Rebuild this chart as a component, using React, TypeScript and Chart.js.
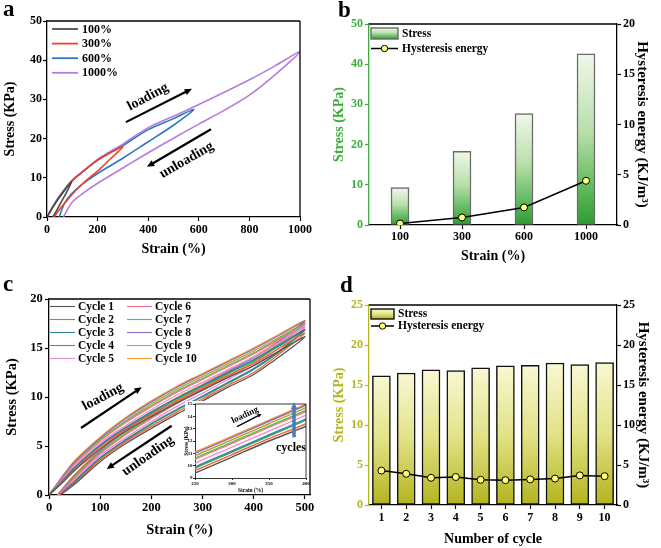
import React, { useEffect, useRef } from "react";
import { Chart, registerables } from "chart.js";
Chart.register(...registerables);

const PAGE_W = 661;
const PAGE_H = 548;
const SERIF = "'Liberation Serif', 'Times New Roman', Times, serif";

// ---------------- Panel a data ----------------
const aLevels = ["100%", "300%", "600%", "1000%"];
const aColors = ["#4d4d4d", "#f0402a", "#2b78c0", "#b57ddd"];
const a100X = [0, 25, 50, 75, 97, 75, 50, 35, 22];
const a100Y = [0, 2.7, 5.1, 7.3, 9.0, 6.0, 3.1, 1.3, 0];
const a300X = [0, 25, 50, 100, 150, 200, 250, 300, 250, 210, 150, 117, 80, 50, 28];
const a300Y = [0, 2.8, 5.2, 9.2, 12.0, 14.5, 16.4, 17.9, 14.8, 12.3, 9.0, 7.0, 4.3, 2.0, 0];
const a600X = [0, 25, 50, 100, 150, 200, 300, 400, 500, 580, 500, 400, 300, 200, 140, 100, 70, 48];
const a600Y = [0, 2.8, 5.3, 9.3, 12.0, 14.5, 18.2, 22.3, 25.1, 27.4, 23.4, 19.2, 15.0, 11.1, 8.4, 6.1, 3.6, 0];
const a1000X = [0, 25, 50, 100, 150, 200, 250, 300, 400, 500, 600, 700, 800, 900, 1000, 900, 800, 700, 600, 500, 400, 300, 200, 150, 100, 65];
const a1000Y = [0, 2.8, 5.4, 9.4, 12.1, 14.7, 16.7, 18.6, 22.8, 25.7, 28.7, 31.8, 35.0, 38.5, 42.2, 36.2, 31.1, 27.2, 23.7, 20.1, 16.4, 12.5, 8.6, 6.4, 3.8, 0];
const aXTicks = [0, 200, 400, 600, 800, 1000];
const aYTicks = [0, 10, 20, 30, 40, 50];

// ---------------- Panel b data ----------------
const bCats = ["100", "300", "600", "1000"];
const bStress = [9.3, 18.3, 27.7, 42.6];
const bEnergy = [0.15, 0.75, 1.75, 4.4];
const bYTicks = [0, 10, 20, 30, 40, 50];
const bY2Ticks = [0, 5, 10, 15, 20];

// ---------------- Panel c data ----------------
const cycleLabels = ["Cycle 1", "Cycle 2", "Cycle 3", "Cycle 4", "Cycle 5", "Cycle 6", "Cycle 7", "Cycle 8", "Cycle 9", "Cycle 10"];
const cycleColors = ["#555555", "#ff5a36", "#2f7f9f", "#2caa5f", "#e58fd8", "#ff7088", "#44cc44", "#8e6cc0", "#b0a838", "#ff9a1f"];
const cLoadX = [0, 25, 50, 100, 150, 200, 250, 300, 350, 400, 450, 500];
const cLoadY = [
  [0, 1.2, 2.5, 4.7, 6.5, 8.0, 9.4, 10.7, 12.0, 13.2, 14.7, 16.15],
  [0, 1.3, 2.6, 4.9, 6.7, 8.2, 9.6, 10.9, 12.2, 13.4, 15.0, 16.5],
  [0, 1.4, 2.8, 5.1, 6.9, 8.5, 9.9, 11.2, 12.5, 13.8, 15.3, 16.9],
  [0, 1.4, 2.7, 5.0, 6.8, 8.4, 9.8, 11.1, 12.4, 13.7, 15.2, 16.8],
  [0, 1.5, 2.9, 5.3, 7.1, 8.7, 10.2, 11.5, 12.8, 14.1, 15.6, 17.15],
  [0, 1.6, 3.1, 5.5, 7.4, 9.0, 10.5, 11.8, 13.1, 14.4, 15.9, 17.4],
  [0, 1.6, 3.2, 5.6, 7.5, 9.1, 10.6, 11.9, 13.2, 14.5, 16.0, 17.45],
  [0, 1.8, 3.4, 5.8, 7.8, 9.5, 11.0, 12.3, 13.6, 14.9, 16.3, 17.75],
  [0, 1.7, 3.3, 5.7, 7.6, 9.3, 10.8, 12.1, 13.4, 14.7, 16.1, 17.55],
  [0, 1.8, 3.5, 5.9, 7.9, 9.6, 11.1, 12.4, 13.7, 15.0, 16.4, 17.8],
];
const cUnloadX = [450, 400, 350, 300, 250, 200, 150, 100, 50];
const cUnloadEnd = [22, 21, 20, 20, 19, 18, 18, 17, 17, 16];
const cUnloadY = [
  [14.1, 12.3, 11.0, 9.6, 8.25, 6.8, 5.25, 3.4, 1.1, 0],
  [14.4, 12.5, 11.2, 9.8, 8.45, 7.0, 5.45, 3.6, 1.2, 0],
  [14.7, 12.9, 11.5, 10.1, 8.75, 7.3, 5.65, 3.8, 1.4, 0],
  [14.6, 12.8, 11.4, 10.0, 8.65, 7.2, 5.55, 3.7, 1.3, 0],
  [15.0, 13.2, 11.8, 10.4, 9.05, 7.5, 5.85, 4.0, 1.5, 0],
  [15.3, 13.5, 12.1, 10.7, 9.35, 7.8, 6.15, 4.2, 1.7, 0],
  [15.4, 13.6, 12.2, 10.8, 9.45, 7.9, 6.25, 4.3, 1.8, 0],
  [15.7, 14.0, 12.6, 11.2, 9.85, 8.3, 6.55, 4.5, 2.0, 0],
  [15.5, 13.8, 12.4, 11.0, 9.65, 8.1, 6.35, 4.4, 1.9, 0],
  [15.8, 14.1, 12.7, 11.3, 9.95, 8.4, 6.65, 4.6, 2.1, 0],
];
const cXTicks = [0, 100, 200, 300, 400, 500];
const cYTicks = [0, 5, 10, 15, 20];
const insetXTicks = [250, 300, 350, 400];
const insetYTicks = [9, 10, 11, 12, 13, 14, 15];

// ---------------- Panel d data ----------------
const dCats = ["1", "2", "3", "4", "5", "6", "7", "8", "9", "10"];
const dStress = [16.15, 16.5, 16.9, 16.8, 17.15, 17.4, 17.45, 17.75, 17.55, 17.8];
const dEnergy = [4.3, 3.9, 3.4, 3.5, 3.15, 3.1, 3.2, 3.3, 3.7, 3.6];
const dYTicks = [0, 5, 10, 15, 20, 25];

// ---------------- annotations (data coordinates) ----------------
const aNotes = [
  { kind: "arrow", x1: 312, y1: 24.2, x2: 573, y2: 32.7, width: 2.2, head: 8 },
  { kind: "text", x: 399, y: 30.6, text: "loading", angle: -28, size: 14 },
  { kind: "arrow", x1: 648, y1: 22.4, x2: 395, y2: 12.8, width: 2.2, head: 8 },
  { kind: "text", x: 552, y: 14.5, text: "unloading", angle: -30, size: 14 },
];
const cNotes = [
  { kind: "arrow", x1: 62.5, y1: 6.84, x2: 181.1, y2: 11.0, width: 2.2, head: 8 },
  { kind: "text", x: 105.5, y: 10.0, text: "loading", angle: -28, size: 14 },
  { kind: "arrow", x1: 239.7, y1: 7.07, x2: 112.7, y2: 2.65, width: 2.2, head: 8 },
  { kind: "text", x: 193.4, y: 4.0, text: "unloading", angle: -35, size: 14 },
];
const insetNotes = [
  { kind: "arrow", x1: 306.8, y1: 13.16, x2: 340.1, y2: 14.19, width: 1.3, head: 4.5 },
  { kind: "text", x: 317.6, y: 14.1, text: "loading", angle: -25, size: 9 },
  { kind: "arrow", x1: 383.8, y1: 12.3, x2: 383.8, y2: 15.16, width: 3.5, head: 8, color: "#4a7db3" },
  { kind: "text", x: 379.7, y: 11.43, text: "cycles", angle: 0, size: 12 },
];

const GREEN = "#3cac3c";
const OLIVE = "#b5b524";
const bStops: [number, string][] = [[0, "#f0f8ea"], [0.45, "#b9dfab"], [0.8, "#5cb85a"], [1, "#2d9a33"]];
const dStops: [number, string][] = [[0, "#f8f8d4"], [0.5, "#e2e286"], [1, "#b3b31e"]];

const fnt = (size: number) => ({ family: SERIF, size, weight: "bold" as const });
const cssFont = (size: number) => `bold ${size}px ${SERIF}`;

function xy(xs: number[], ys: number[]) {
  return xs.map((x, i) => ({ x, y: ys[i] }));
}

function scale(o: any) {
  const color = o.color || "#000";
  const vertical = o.position !== "bottom";
  const s: any = {
    type: o.type || "linear",
    position: o.position,
    min: o.min,
    max: o.max,
    offset: o.offset ?? false,
    grid: {
      display: true,
      drawOnChartArea: false,
      drawTicks: true,
      tickLength: o.tickLength ?? 4,
      tickWidth: o.tickWidth ?? 1.2,
      tickColor: color,
      color,
      offset: false,
    },
    border: { display: true, color, width: o.borderWidth ?? 1.3 },
    ticks: {
      color,
      font: fnt(o.tickSize ?? 12),
      padding: o.tickPad ?? 2,
      maxRotation: 0,
      minRotation: 0,
      autoSkip: false,
    },
    title: {
      display: !!o.title,
      text: o.title,
      color,
      font: fnt(o.titleSize ?? 14),
      padding: { top: o.titlePad ?? 0, bottom: o.titlePad ?? 0 },
    },
    afterFit: (sc: any) => {
      if (vertical) sc.width = o.size;
      else sc.height = o.size;
    },
  };
  if (o.ticksList) {
    s.ticks.callback = (v: any) => String(v);
    s.afterBuildTicks = (sc: any) => {
      sc.ticks = o.ticksList.map((v: number) => ({ value: v }));
    };
  }
  return s;
}

function drawArrow(ctx: CanvasRenderingContext2D, x1: number, y1: number, x2: number, y2: number, color: string, width: number, head: number) {
  const ang = Math.atan2(y2 - y1, x2 - x1);
  ctx.save();
  ctx.strokeStyle = color;
  ctx.fillStyle = color;
  ctx.lineWidth = width;
  ctx.beginPath();
  ctx.moveTo(x1, y1);
  ctx.lineTo(x2 - Math.cos(ang) * head * 0.7, y2 - Math.sin(ang) * head * 0.7);
  ctx.stroke();
  ctx.beginPath();
  ctx.moveTo(x2, y2);
  ctx.lineTo(x2 - head * Math.cos(ang - 0.42), y2 - head * Math.sin(ang - 0.42));
  ctx.lineTo(x2 - head * Math.cos(ang + 0.42), y2 - head * Math.sin(ang + 0.42));
  ctx.closePath();
  ctx.fill();
  ctx.restore();
}

function notesPlugin(notes: any[]) {
  return {
    id: "notes",
    afterDraw(chart: any) {
      const ctx = chart.ctx;
      const xs = chart.scales.x;
      const ys = chart.scales.y;
      notes.forEach((n) => {
        if (n.kind === "arrow") {
          drawArrow(ctx, xs.getPixelForValue(n.x1), ys.getPixelForValue(n.y1), xs.getPixelForValue(n.x2), ys.getPixelForValue(n.y2), n.color || "#000", n.width, n.head);
        } else {
          ctx.save();
          ctx.translate(xs.getPixelForValue(n.x), ys.getPixelForValue(n.y));
          ctx.rotate((n.angle * Math.PI) / 180);
          ctx.font = cssFont(n.size);
          ctx.fillStyle = n.color || "#000";
          ctx.textAlign = "center";
          ctx.textBaseline = "middle";
          ctx.fillText(n.text, 0, 0);
          ctx.restore();
        }
      });
    },
  };
}

function framePlugin(top: boolean, right: boolean, width = 1.3) {
  return {
    id: "frame",
    afterDraw(chart: any) {
      const { ctx, chartArea: a } = chart;
      ctx.save();
      ctx.strokeStyle = "#000";
      ctx.lineWidth = width;
      ctx.beginPath();
      if (top) {
        ctx.moveTo(a.left, a.top);
        ctx.lineTo(a.right, a.top);
      }
      if (right) {
        ctx.moveTo(a.right, a.top);
        ctx.lineTo(a.right, a.bottom);
      }
      ctx.stroke();
      ctx.restore();
    },
  };
}

function letterPlugin(letter: string, x: number, y: number) {
  return {
    id: "letter",
    afterDraw(chart: any) {
      const ctx = chart.ctx;
      ctx.save();
      ctx.font = cssFont(23);
      ctx.fillStyle = "#000";
      ctx.textBaseline = "alphabetic";
      ctx.textAlign = "left";
      ctx.fillText(letter, x, y);
      ctx.restore();
    },
  };
}

function barGradient(stops: [number, string][], fallback: string) {
  return (c: any) => {
    const chart = c.chart;
    const sc = chart.scales && chart.scales.y;
    if (!chart.chartArea || !sc || c.type !== "data") return fallback;
    const top = sc.getPixelForValue(c.raw);
    const bot = sc.getPixelForValue(0);
    const g = chart.ctx.createLinearGradient(0, top, 0, bot);
    stops.forEach(([o, col]) => g.addColorStop(o, col));
    return g;
  };
}

function lineLegend(labels: string[], colors: string[], cfg: any) {
  return {
    id: "lineLegend",
    afterDraw(chart: any) {
      const { ctx, chartArea: a } = chart;
      ctx.save();
      ctx.font = cssFont(cfg.size);
      ctx.textBaseline = "middle";
      ctx.textAlign = "left";
      labels.forEach((lab, i) => {
        const col = Math.floor(i / cfg.rows);
        const row = i % cfg.rows;
        const y = a.top + cfg.y0 + row * cfg.dy;
        const x = a.left + cfg.x0 + col * cfg.dx;
        ctx.strokeStyle = colors[i];
        ctx.lineWidth = cfg.lw;
        ctx.beginPath();
        ctx.moveTo(x, y);
        ctx.lineTo(x + cfg.len, y);
        ctx.stroke();
        ctx.fillStyle = "#000";
        ctx.fillText(lab, x + cfg.len + cfg.gap, y + 0.5);
      });
      ctx.restore();
    },
  };
}

function comboLegend(stops: [number, string][], boxBorder: string, cfg: any) {
  return {
    id: "comboLegend",
    afterDraw(chart: any) {
      const { ctx, chartArea: a } = chart;
      const x = a.left + cfg.x0;
      const y1 = a.top + cfg.y0;
      ctx.save();
      const g = ctx.createLinearGradient(0, y1, 0, y1 + cfg.bh);
      stops.forEach(([o, c]) => g.addColorStop(o, c));
      ctx.fillStyle = g;
      ctx.fillRect(x, y1, cfg.bw, cfg.bh);
      ctx.strokeStyle = boxBorder;
      ctx.lineWidth = 1.4;
      ctx.strokeRect(x, y1, cfg.bw, cfg.bh);
      ctx.font = cssFont(cfg.size);
      ctx.fillStyle = "#000";
      ctx.textBaseline = "middle";
      ctx.fillText(chart.data.datasets[1].label, x + cfg.bw + cfg.gap, y1 + cfg.bh / 2 + 0.5);
      const y2 = a.top + cfg.y2;
      ctx.strokeStyle = "#000";
      ctx.lineWidth = 1.5;
      ctx.beginPath();
      ctx.moveTo(x, y2);
      ctx.lineTo(x + cfg.bw, y2);
      ctx.stroke();
      ctx.beginPath();
      ctx.arc(x + cfg.bw / 2, y2, 3.2, 0, Math.PI * 2);
      ctx.fillStyle = "#ffff7a";
      ctx.fill();
      ctx.lineWidth = 1;
      ctx.stroke();
      ctx.fillStyle = "#000";
      ctx.fillText(chart.data.datasets[0].label, x + cfg.bw + cfg.gap, y2 + 0.5);
      ctx.restore();
    },
  };
}

const baseOptions = (padding: any, scales: any) => ({
  responsive: false,
  animation: false,
  events: [],
  devicePixelRatio: 1,
  layout: { padding },
  plugins: { legend: { display: false }, tooltip: { enabled: false } },
  scales,
});

function makeA() {
  const xs = [a100X, a300X, a600X, a1000X];
  const ys = [a100Y, a300Y, a600Y, a1000Y];
  return {
    type: "scatter",
    data: {
      datasets: aLevels.map((lab, i) => ({
        label: lab,
        data: xy(xs[i], ys[i]),
        borderColor: aColors[i],
        backgroundColor: aColors[i],
        borderWidth: 1.6,
        pointRadius: 0,
        showLine: true,
        tension: 0.3,
      })),
    },
    options: baseOptions(
      { left: 0, top: 21, right: 361, bottom: 290 },
      {
        x: scale({ position: "bottom", min: 0, max: 1000, ticksList: aXTicks, title: "Strain (%)", size: 41, tickPad: 1.8 }),
        y: scale({ position: "left", min: 0, max: 50, ticksList: aYTicks, title: "Stress (KPa)", size: 47, tickPad: 1, titlePad: 1.6 }),
      }
    ),
    plugins: [
      framePlugin(true, true),
      notesPlugin(aNotes),
      lineLegend(aLevels, aColors, { size: 12, rows: 4, x0: 5, y0: 8, dy: 14.6, dx: 0, len: 26, gap: 4, lw: 1.8 }),
      letterPlugin("a", 3, 15.5),
    ],
  };
}

function makeB() {
  return {
    type: "bar",
    data: {
      labels: bCats,
      datasets: [
        { type: "line", label: "Hysteresis energy", data: bEnergy, yAxisID: "y2", borderColor: "#000", borderWidth: 1.5, pointRadius: 3.5, pointBackgroundColor: "#ffff7a", pointBorderColor: "#000", pointBorderWidth: 1, tension: 0, order: 1 },
        { type: "bar", label: "Stress", data: bStress, yAxisID: "y", backgroundColor: barGradient(bStops, "#8c8"), borderColor: "#6a6a6a", borderWidth: 1.5, borderSkipped: false, barThickness: 18, order: 2 },
      ],
    },
    options: baseOptions(
      { left: 331, top: 24, right: 8, bottom: 283 },
      {
        x: scale({ type: "category", position: "bottom", offset: true, title: "Strain (%)", size: 40, tickPad: 0.5 }),
        y: scale({ position: "left", min: 0, max: 50, ticksList: bYTicks, color: GREEN, title: "Stress (KPa)", size: 38, tickPad: 2 }),
        y2: scale({ position: "right", min: 0, max: 20, ticksList: bY2Ticks, title: "Hysteresis energy (KJ/m\u00B3)", titleSize: 15, size: 36, titlePad: 2, tickPad: 2 }),
      }
    ),
    plugins: [
      framePlugin(true, false),
      comboLegend(bStops, "#6a6a6a", { x0: 2, y0: 4, bw: 27, bh: 11, y2: 24.5, gap: 4, size: 11.5 }),
      letterPlugin("b", 338, 17),
    ],
  };
}

function makeC() {
  return {
    type: "scatter",
    data: {
      datasets: cycleLabels.map((lab, i) => ({
        label: lab,
        data: [...xy(cLoadX, cLoadY[i]), ...xy([...cUnloadX, cUnloadEnd[i]], cUnloadY[i])],
        borderColor: cycleColors[i],
        backgroundColor: cycleColors[i],
        borderWidth: 1.3,
        pointRadius: 0,
        showLine: true,
        tension: 0.3,
      })),
    },
    options: baseOptions(
      { left: 0, top: 299, right: 351, bottom: 9 },
      {
        x: scale({ position: "bottom", min: 0, max: 510, ticksList: cXTicks, title: "Strain (%)", titleSize: 14.5, tickSize: 12.5, size: 44, tickPad: 0.8 }),
        y: scale({ position: "left", min: 0, max: 20, ticksList: cYTicks, title: "Stress (KPa)", titleSize: 14.5, tickSize: 12.5, size: 49, tickPad: 2.3, titlePad: 3.8 }),
      }
    ),
    plugins: [
      framePlugin(true, true),
      notesPlugin(cNotes),
      lineLegend(cycleLabels, cycleColors, { size: 11.5, rows: 5, x0: 1, y0: 7.5, dy: 13, dx: 77, len: 25, gap: 3, lw: 1.1 }),
      letterPlugin("c", 3, 291),
    ],
  };
}

function makeInset() {
  return {
    type: "scatter",
    data: {
      datasets: cycleLabels.map((lab, i) => ({
        label: lab,
        data: xy(cLoadX, cLoadY[i]),
        borderColor: cycleColors[i],
        backgroundColor: cycleColors[i],
        borderWidth: 1.4,
        pointRadius: 0,
        showLine: true,
        tension: 0.3,
      })),
    },
    options: baseOptions(
      { left: 183, top: 404, right: 355, bottom: 53.7 },
      {
        x: scale({ position: "bottom", min: 250, max: 400, ticksList: insetXTicks, title: "Strain (%)", titleSize: 5.5, tickSize: 5, size: 16.3, tickPad: 0.3, tickLength: 2, borderWidth: 0.8, tickWidth: 0.8 }),
        y: scale({ position: "left", min: 9, max: 15, ticksList: insetYTicks, title: "Stress (KPa)", titleSize: 5.5, tickSize: 5, size: 12, tickPad: 0.5, tickLength: 2, borderWidth: 0.8, tickWidth: 0.8 }),
      }
    ),
    plugins: [
      {
        id: "whiteBg",
        beforeDraw(chart: any) {
          const ctx = chart.ctx;
          ctx.save();
          ctx.fillStyle = "#fff";
          ctx.fillRect(185, 401, 123, 93);
          ctx.restore();
        },
      },
      framePlugin(true, true, 0.8),
      notesPlugin(insetNotes),
    ],
  };
}

function makeD() {
  return {
    type: "bar",
    data: {
      labels: dCats,
      datasets: [
        { type: "line", label: "Hysteresis energy", data: dEnergy, yAxisID: "y2", borderColor: "#000", borderWidth: 1.5, pointRadius: 3.5, pointBackgroundColor: "#ffff7a", pointBorderColor: "#000", pointBorderWidth: 1, tension: 0, order: 1 },
        { type: "bar", label: "Stress", data: dStress, yAxisID: "y", backgroundColor: barGradient(dStops, "#dd8"), borderColor: "#111", borderWidth: 1.5, borderSkipped: false, barThickness: 18, order: 2 },
      ],
    },
    options: baseOptions(
      { left: 331, top: 305, right: 8, bottom: 0 },
      {
        x: scale({ type: "category", position: "bottom", offset: true, title: "Number of cycle", size: 43, tickPad: 2.1 }),
        y: scale({ position: "left", min: 0, max: 25, ticksList: dYTicks, color: OLIVE, title: "Stress (KPa)", size: 38, tickPad: 2 }),
        y2: scale({ position: "right", min: 0, max: 25, ticksList: dYTicks, title: "Hysteresis energy (KJ/m\u00B3)", titleSize: 15, size: 36, titlePad: 1, tickPad: 2 }),
      }
    ),
    plugins: [
      framePlugin(true, false),
      comboLegend(dStops, "#111", { x0: 2, y0: 4, bw: 23, bh: 10, y2: 21, gap: 4, size: 11.5 }),
      letterPlugin("d", 340, 292),
    ],
  };
}

function ChartLayer({ make }: { make: () => any }) {
  const ref = useRef<HTMLCanvasElement>(null);
  useEffect(() => {
    const chart = new Chart(ref.current as HTMLCanvasElement, make());
    return () => chart.destroy();
  }, [make]);
  return (
    <canvas
      ref={ref}
      width={PAGE_W}
      height={PAGE_H}
      style={{ position: "absolute", left: 0, top: 0, width: PAGE_W, height: PAGE_H }}
    />
  );
}

export default function App() {
  return (
    <div style={{ position: "absolute", left: 0, top: 0, width: PAGE_W, height: PAGE_H, background: "#fff", overflow: "hidden" }}>
      <ChartLayer make={makeA} />
      <ChartLayer make={makeB} />
      <ChartLayer make={makeC} />
      <ChartLayer make={makeInset} />
      <ChartLayer make={makeD} />
    </div>
  );
}
